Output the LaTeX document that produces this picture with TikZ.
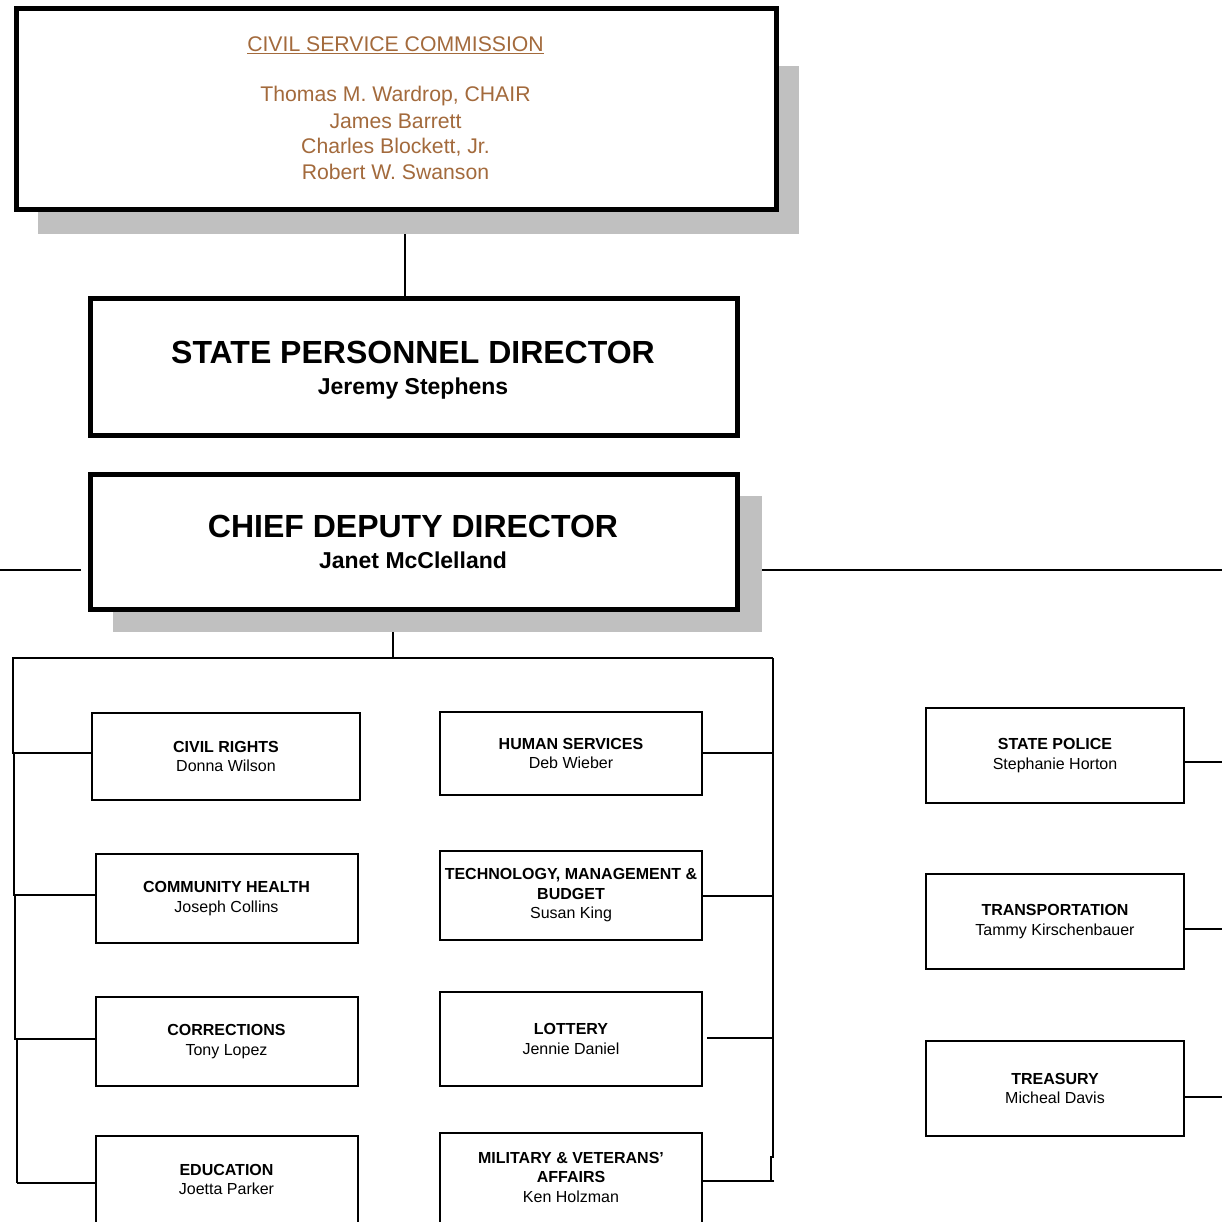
\documentclass[tikz,border=0pt]{standalone}
\usepackage{fontspec}
\setmainfont{Liberation Sans}
\usetikzlibrary{backgrounds}
\definecolor{commbrown}{RGB}{163,106,60}
\definecolor{shadowgray}{RGB}{192,192,192}
\begin{document}
\begin{tikzpicture}[x=1pt,y=-1pt,
  bigbox/.style={draw, line width=5pt, fill=white, rectangle, inner sep=0pt, outer sep=0pt, anchor=north west},
  unitbox/.style={draw, line width=2pt, fill=white, rectangle, inner sep=0pt, outer sep=0pt, anchor=north west, align=center, font=\fontsize{16}{19.5}\selectfont},
  unittext/.style={inner sep=0pt, align=center, font=\fontsize{16}{19.5}\selectfont},
  shade/.style={fill=shadowgray, draw=none},
  conn/.style={line width=2pt},
  commtext/.style={inner sep=0pt, anchor=base, text=commbrown, font=\fontsize{21.2}{26}\selectfont},
  bigtitle/.style={inner sep=0pt, anchor=base, font=\fontsize{32}{34}\selectfont\bfseries},
  bigname/.style={inner sep=0pt, anchor=base, font=\fontsize{23}{26}\selectfont\bfseries},
]
\useasboundingbox (0,0) rectangle (1222,1222);

% ---- top boxes
\node[bigbox, minimum width=760pt, minimum height=201pt] (csc) at (16,8.5) {};
\node[commtext] (cscT) at (395.5,51.7) {CIVIL SERVICE COMMISSION};
\draw[commbrown, line width=1.2pt] ([yshift=-1.8pt]cscT.base west) -- ([yshift=-1.8pt]cscT.base east);
\node[commtext] (cscA) at (395.5,101.7) {Thomas M. Wardrop, CHAIR};
\node[commtext] (cscB) at (395.5,128.3) {James Barrett};
\node[commtext] (cscC) at (395.5,154) {Charles Blockett, Jr.};
\node[commtext] (cscD) at (395.5,179.3) {Robert W. Swanson};

\node[bigbox, minimum width=647pt, minimum height=137pt] (spd) at (90,298.5) {};
\node[bigtitle] (spdT) at (413,363.5) {STATE PERSONNEL DIRECTOR};
\node[bigname] (spdN) at (413,394.3) {Jeremy Stephens};

\node[bigbox, minimum width=647pt, minimum height=135pt] (cdd) at (90,474) {};
\node[bigtitle] (cddT) at (413,537) {CHIEF DEPUTY DIRECTOR};
\node[bigname] (cddN) at (413,568.3) {Janet McClelland};

% ---- left column
\node[unitbox, minimum width=268pt, minimum height=87pt] (cr) at (92,713) {\textbf{CIVIL RIGHTS}\\Donna Wilson};
\node[unitbox, minimum width=262pt, minimum height=89pt] (ch) at (95.5,854) {\textbf{COMMUNITY HEALTH}\\Joseph Collins};
\node[unitbox, minimum width=262pt, minimum height=89pt] (co) at (95.5,997) {\textbf{CORRECTIONS}\\Tony Lopez};
\node[unitbox, minimum width=262pt, minimum height=130pt] (ed) at (95.5,1136) {};
\node[unittext] (edt) at (226.5,1179.5) {\textbf{EDUCATION}\\Joetta Parker};

% ---- middle column
\node[unitbox, minimum width=262pt, minimum height=83pt] (hs) at (440,712) {\textbf{HUMAN SERVICES}\\Deb Wieber};
\node[unitbox, minimum width=262pt, minimum height=89pt] (tm) at (440,851) {\textbf{TECHNOLOGY, MANAGEMENT \&}\\\textbf{BUDGET}\\Susan King};
\node[unitbox, minimum width=262pt, minimum height=94pt] (lo) at (440,992) {\textbf{LOTTERY}\\Jennie Daniel};
\node[unitbox, minimum width=262pt, minimum height=130pt] (mv) at (440,1133) {};
\node[unittext] (mvt) at (571,1177) {\textbf{MILITARY \& VETERANS’}\\\textbf{AFFAIRS}\\Ken Holzman};

% ---- right column
\node[unitbox, minimum width=258pt, minimum height=95pt] (sp) at (926,708) {\textbf{STATE POLICE}\\Stephanie Horton};
\node[unitbox, minimum width=258pt, minimum height=95pt] (tr) at (926,874) {\textbf{TRANSPORTATION}\\Tammy Kirschenbauer};
\node[unitbox, minimum width=258pt, minimum height=95pt] (ts) at (926,1041) {\textbf{TREASURY}\\Micheal Davis};

% ---- coordinates for connectors
\coordinate (cscdrop) at (405,0);
\coordinate (cdddrop) at (393,0);
\coordinate (busL) at (12.8,658);
\coordinate (busR) at (773,658);
\coordinate (L1) at (12.8,752.7);
\coordinate (L1b) at (14.3,752.7);
\coordinate (L2) at (14.3,895.3);
\coordinate (L2b) at (15.3,895.3);
\coordinate (L3) at (15.3,1039.3);
\coordinate (L3b) at (16.8,1039.3);
\coordinate (L4) at (16.8,1183.3);
\coordinate (R1) at (773,1156.7);
\coordinate (R1b) at (770.5,1156.7);
\coordinate (R2) at (770.5,1180.7);
\coordinate (R2e) at (774,1180.7);
\coordinate (RH) at (773,752.7);
\coordinate (RT) at (773,896);
\coordinate (RL) at (773,1038.3);
\coordinate (lottip) at (707,1038.3);
\coordinate (sideL0) at (0,569.5);
\coordinate (sideL1) at (80.6,569.5);
\coordinate (sideR) at (1222,569.5);
\coordinate (spR) at (1222,761.7);
\coordinate (trR) at (1222,929.3);
\coordinate (tsR) at (1222,1097.3);

\begin{scope}[on background layer]
  \draw[conn] (csc.south -| cscdrop) -- (spd.north -| cscdrop);
  \draw[conn] (cdd.south -| cdddrop) -- (cdddrop |- busL);
  \draw[conn] (sideL0) -- (sideL1);
  \draw[conn] (cdd.east |- sideR) -- (sideR);
  \draw[conn] (busR) -- (busL) -- (L1) -- (L1b) -- (L2) -- (L2b) -- (L3) -- (L3b) -- (L4);
  \draw[conn] (L1) -- (L1 -| cr.west);
  \draw[conn] (L2) -- (L2 -| ch.west);
  \draw[conn] (L3) -- (L3 -| co.west);
  \draw[conn] (L4) -- (L4 -| ed.west);
  \draw[conn] (busR) -- (R1) -- (R1b) -- (R2);
  \draw[conn] (R2e) -- (R2e -| mv.east);
  \draw[conn] (RH) -- (RH -| hs.east);
  \draw[conn] (RT) -- (RT -| tm.east);
  \draw[conn] (RL) -- (lottip);
  \draw[conn] (spR -| sp.east) -- (spR);
  \draw[conn] (trR -| tr.east) -- (trR);
  \draw[conn] (tsR -| ts.east) -- (tsR);
  \fill[shade] (38,66) rectangle (799,234);
  \fill[shade] (113,496) rectangle (762,632);
\end{scope}
\end{tikzpicture}
\end{document}
